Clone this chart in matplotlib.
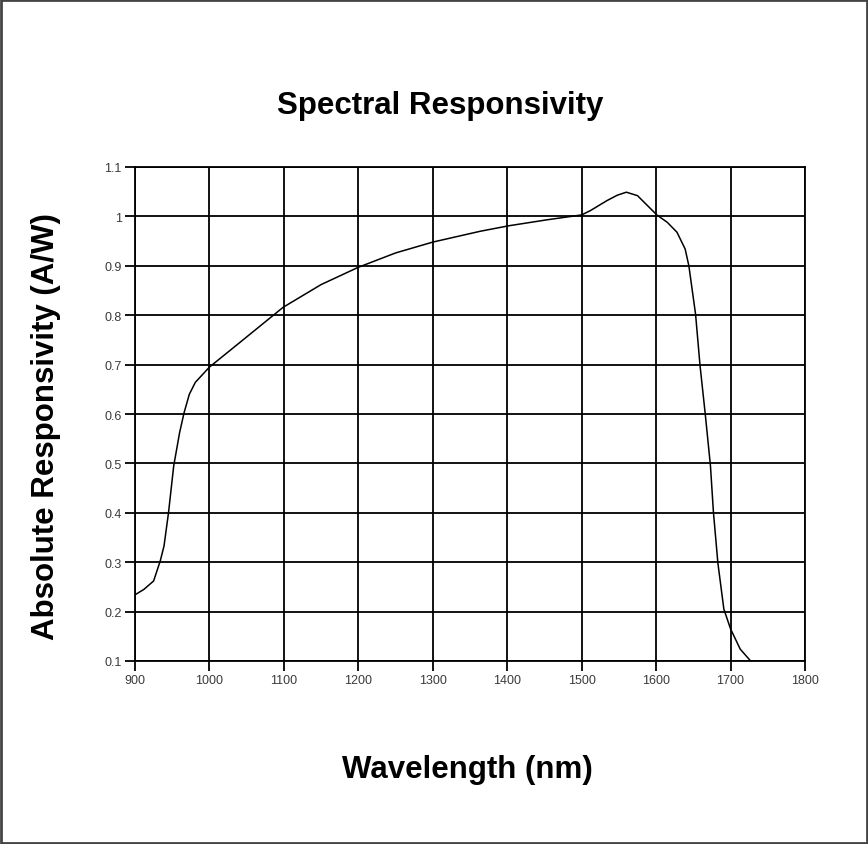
import numpy as np
import matplotlib
matplotlib.use('Agg')
import matplotlib.pyplot as plt
from matplotlib.patches import Rectangle

plt.rcParams['font.family'] = ['Liberation Sans', 'DejaVu Sans']

# responsivity curve
wavelength = [900, 912, 925, 934, 939, 945, 952, 960, 966, 973, 981, 1000, 1041, 1099,
              1150, 1200, 1250, 1300, 1364, 1402, 1453, 1500, 1512, 1534, 1548, 1560,
              1575, 1601, 1615, 1628, 1639, 1644, 1653, 1659, 1666, 1673, 1677, 1683,
              1691, 1700, 1713, 1727]
responsivity = [0.234, 0.245, 0.262, 0.303, 0.333, 0.40, 0.495, 0.563, 0.603, 0.64,
                0.664, 0.695, 0.745, 0.816, 0.862, 0.897, 0.926, 0.948, 0.970, 0.981,
                0.993, 1.003, 1.012, 1.032, 1.043, 1.049, 1.042, 1.003, 0.988, 0.968,
                0.934, 0.90, 0.802, 0.698, 0.60, 0.495, 0.401, 0.298, 0.205, 0.165,
                0.124, 0.10]

xticks = list(range(900, 1801, 100))
yticks = [0.1, 0.2, 0.3, 0.4, 0.5, 0.6, 0.7, 0.8, 0.9, 1.0, 1.1]
ytick_labels = ['0.1', '0.2', '0.3', '0.4', '0.5', '0.6', '0.7', '0.8', '0.9', '1', '1.1']

fig = plt.figure(figsize=(8.68, 8.45), dpi=100)
ax = fig.add_axes([135/868, 1-662/845, 670/868, 494/845])

ax.plot(wavelength, responsivity, color='black', lw=1.1)

ax.set_xlim(900, 1800)
ax.set_ylim(0.1, 1.1)
ax.set_xticks(xticks)
ax.set_yticks(yticks)
ax.set_yticklabels(ytick_labels)
ax.grid(True, color='black', lw=1.3)
for s in ax.spines.values():
    s.set_linewidth(1.3)
ax.tick_params(direction='out', length=7.5, width=1.3, labelsize=9,
               labelcolor='#3a3a3a')
ax.tick_params(axis='x', pad=2)
ax.tick_params(axis='y', pad=2)

fig.text(440/868, 1-106/845, 'Spectral Responsivity', ha='center', va='center',
         fontsize=22.5, fontweight='bold')
fig.text(467/868, 1-770/845, 'Wavelength (nm)', ha='center', va='center',
         fontsize=22.5, fontweight='bold')
fig.text(46/868, 1-427/845, 'Absolute Responsivity (A/W)', ha='center', va='center',
         rotation=90, fontsize=22.5, fontweight='bold')

# frame round the whole picture
fig.patches.append(Rectangle((0.001, 0.001), 0.998, 0.998, transform=fig.transFigure,
                             fill=False, edgecolor='#444444', lw=2))

fig.savefig('out.png', dpi=100)
